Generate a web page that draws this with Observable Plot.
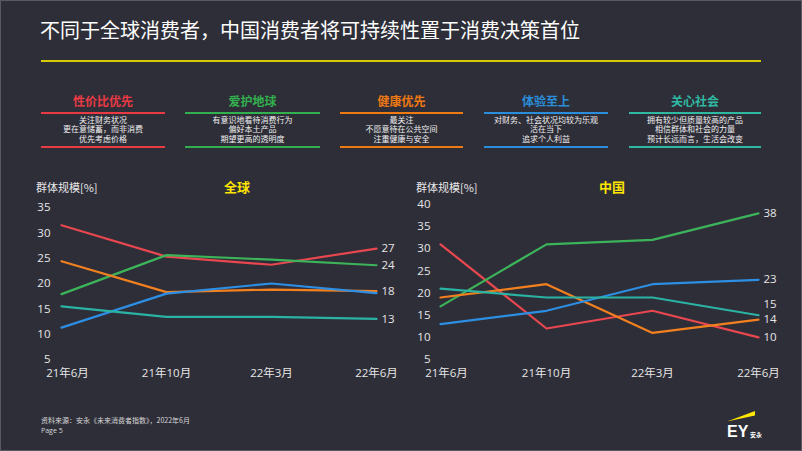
<!DOCTYPE html>
<html><head><meta charset="utf-8">
<script src="https://cdn.jsdelivr.net/npm/d3@7"></script>
<script src="https://cdn.jsdelivr.net/npm/@observablehq/plot@0.6"></script>
<style>
  html,body{margin:0;padding:0;background:#2e2e38;}
  #page{position:relative;width:802px;height:451px;background:#2e2e38;overflow:hidden;
        font-family:"Noto Sans CJK SC","Open Sans",sans-serif;color:#fff;}
  #frame{position:absolute;left:0;top:0;width:802px;height:451px;box-sizing:border-box;border:1px solid #585862;pointer-events:none;}
  .abs{position:absolute;white-space:nowrap;}
  .num{font-family:"Open Sans","Noto Sans CJK SC",sans-serif;}
</style>
</head><body>
<div id="page">
  <div class="abs" style="left:40px;top:19px;font-size:20px;line-height:21px;color:#fff;">不同于全球消费者，中国消费者将可持续性置于消费决策首位</div>
  <div class="abs" style="left:41px;top:60px;width:720px;height:2px;background:#d8c800;"></div>
  <div id="legend"></div>
  <div class="abs" style="left:36px;top:180px;font-size:11px;line-height:14px;color:#e8e8e8;">群体规模[%]</div>
  <div class="abs" style="left:197px;top:179px;width:80px;text-align:center;font-size:13px;line-height:16px;font-weight:bold;color:#ffe600;">全球</div>
  <div class="abs" style="left:416px;top:180px;font-size:11px;line-height:14px;color:#e8e8e8;">群体规模[%]</div>
  <div class="abs" style="left:572px;top:179px;width:80px;text-align:center;font-size:13px;line-height:16px;font-weight:bold;color:#ffe600;">中国</div>
  <div id="chartGlobal" class="abs" style="left:0px;top:190px;"></div>
  <div id="chartChina" class="abs" style="left:400px;top:190px;"></div>
  <div class="abs" style="left:41px;top:416px;font-size:7px;line-height:9px;color:#d8d8d8;">资料来源：安永《未来消费者指数》，2022年6月</div>
  <div class="abs num" style="left:41px;top:426px;font-size:7px;line-height:9px;color:#d8d8d8;">Page 5</div>
  <svg class="abs" style="left:720px;top:405px;" width="50" height="36" viewBox="720 405 50 36">
    <polygon points="727,421.5 755,411 755,415.5" fill="#ffe600"/>
    <text x="727" y="437" font-family="Liberation Sans,Arial,sans-serif" font-weight="bold" font-size="16" fill="#fff">EY</text>
    <text x="750" y="437" font-family="Noto Sans CJK SC" font-weight="bold" font-size="6" fill="#fff">安永</text>
  </svg>
  <div id="frame"></div>
</div>
<script>
// ---- data ----
const dates = ["21年6月", "21年10月", "22年3月", "22年6月"];
const segments = ["性价比优先", "爱护地球", "健康优先", "体验至上", "关心社会"];
const segmentColors = ["#e8474f", "#3cb45a", "#f3801f", "#2d8fe3", "#2ab3a3"];
const legendHeaderColors = ["#ea3a44", "#33b04e", "#f07a12", "#2a8edb", "#2fb8a2"];
const segmentDescriptions = [
  ["关注财务状况", "更在意储蓄，而非消费", "优先考虑价格"],
  ["有意识地看待消费行为", "偏好本土产品", "期望更高的透明度"],
  ["最关注", "不愿意待在公共空间", "注重健康与安全"],
  ["对财务、社会状况均较为乐观", "活在当下", "追求个人利益"],
  ["拥有较少但质量较高的产品", "相信群体和社会的力量", "预计长远而言，生活会改变"]
];

// Global (全球) group size [%]
const globalPriceFirst  = [31.5, 25.3, 23.7, 26.9];
const globalPlanetFirst = [17.9, 25.6, 24.7, 23.6];
const globalHealthFirst = [24.4, 18.3, 18.8, 18.5];
const globalExperience  = [11.3, 18.0, 20.0, 18.1];
const globalSociety     = [15.5, 13.4, 13.4, 13.0];
const globalEndLabels   = ["27", "24", "18", null, "13"];
const globalTicks = [5, 10, 15, 20, 25, 30, 35];

// China (中国) group size [%]
const chinaPriceFirst  = [31, 12, 16, 10];
const chinaPlanetFirst = [17, 31, 32, 38];
const chinaHealthFirst = [19, 22, 11, 14];
const chinaExperience  = [13, 16, 22, 23];
const chinaSociety     = [21, 19, 19, 15];
const chinaEndLabels   = ["10", "38", "14", "23", "15"];
const chinaTicks = [5, 10, 15, 20, 25, 30, 35, 40];

// ---- legend (layout) ----
const legendLefts = [41, 185, 340, 484, 629];
const legendWidths = [124, 135, 123, 124, 132];
const legend = document.getElementById("legend");
segments.forEach((s, i) => {
  const left = legendLefts[i], w = legendWidths[i];
  const c = legendHeaderColors[i];
  legend.insertAdjacentHTML("beforeend",
    `<div class="abs" style="left:${left}px;top:93px;width:${w}px;text-align:center;font-size:12px;line-height:16px;font-weight:bold;color:${c};">${s}</div>
     <div class="abs" style="left:${left}px;top:112px;width:${w}px;height:1.6px;background:${c};"></div>
     <div class="abs" style="left:${left}px;top:114.5px;width:${w}px;text-align:center;font-size:8px;line-height:9.5px;color:#f0f0f0;">${segmentDescriptions[i].join("<br>")}</div>
     <div class="abs" style="left:${left}px;top:146px;width:${w}px;height:1.6px;background:${c};"></div>`);
});

// ---- charts ----
function toRows(seriesList) {
  const rows = [];
  seriesList.forEach((vals, si) => vals.forEach((v, di) => rows.push({segment: segments[si], date: dates[di], value: v})));
  return rows;
}
function endLabels(seriesList, labels) {
  return seriesList.map((vals, si) => ({segment: segments[si], date: dates[dates.length - 1], value: vals[vals.length - 1], label: labels[si]}))
    .filter(d => d.label != null);
}

function drawChart(el, seriesList, labels, ticks, opts) {
  const rows = toRows(seriesList);
  const lab = endLabels(seriesList, labels);
  const shifted = opts.shiftSegment;
  const axisStyle = {tickSize: 0, tickPadding: 9, fontSize: 11.5, label: null};
  const chart = Plot.plot({
    width: opts.width, height: 190,
    marginLeft: opts.marginLeft, marginRight: opts.marginRight,
    marginTop: opts.marginTop, marginBottom: 21,
    style: {background: "transparent", color: "#e6e6e6", fontFamily: "'Open Sans','Noto Sans CJK SC',sans-serif", fontSize: "11.5px", overflow: "visible"},
    x: {type: "point", domain: dates, padding: 0},
    y: {domain: [ticks[0], ticks[ticks.length - 1]]},
    color: {domain: segments, range: segmentColors},
    marks: [
      Plot.axisY(ticks, {tickSize: 0, tickPadding: 10, fontSize: 11.5, label: null}),
      Plot.axisX([dates[0]], {...axisStyle, dx: 6}),
      Plot.axisX(dates.slice(1), axisStyle),
      Plot.line(rows, {x: "date", y: "value", z: "segment", stroke: "segment", strokeWidth: 2.2}),
      Plot.text(lab.filter(d => d.segment !== shifted), {x: "date", y: "value", text: "label", textAnchor: "start", dx: 5, fill: "#e6e6e6", fontSize: 11.5}),
      Plot.text(lab.filter(d => d.segment === shifted), {x: "date", y: "value", text: "label", textAnchor: "start", dx: 5, dy: -11, fill: "#e6e6e6", fontSize: 11.5})
    ]
  });
  document.getElementById(el).appendChild(chart);
}

drawChart("chartGlobal",
  [globalPriceFirst, globalPlanetFirst, globalHealthFirst, globalExperience, globalSociety],
  globalEndLabels, globalTicks,
  {width: 400, marginLeft: 60, marginRight: 23, marginTop: 17, shiftSegment: null});

drawChart("chartChina",
  [chinaPriceFirst, chinaPlanetFirst, chinaHealthFirst, chinaExperience, chinaSociety],
  chinaEndLabels, chinaTicks,
  {width: 402, marginLeft: 40, marginRight: 44, marginTop: 14, shiftSegment: "关心社会"});
</script>
</body></html>
